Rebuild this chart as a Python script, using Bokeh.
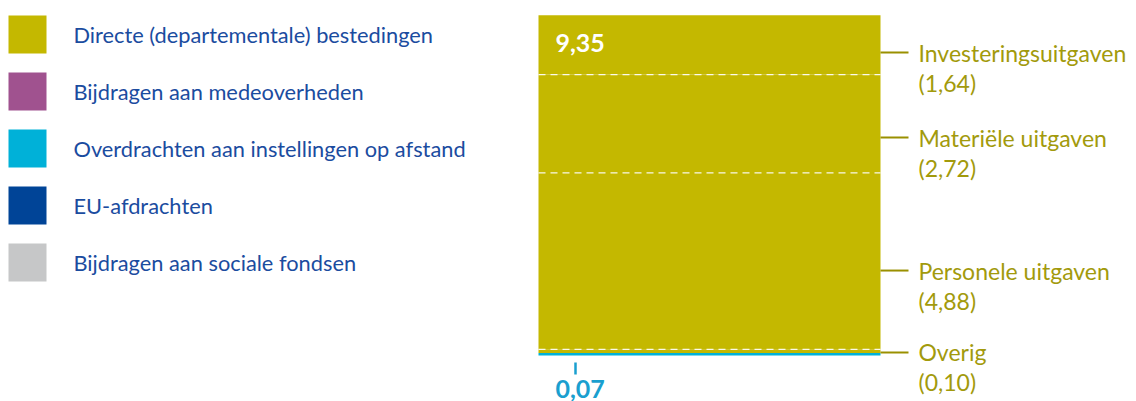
from bokeh.plotting import figure
from bokeh.models import Range1d
from bokeh.embed import file_html
from bokeh.resources import INLINE
from bokeh.core.properties import value

# ---- data ----
legend_labels = ["Directe (departementale) bestedingen", "Bijdragen aan medeoverheden",
                 "Overdrachten aan instellingen op afstand", "EU-afdrachten",
                 "Bijdragen aan sociale fondsen"]
legend_colors = ["#c4b800", "#a0528f", "#00b1d8", "#004497", "#c6c7c8"]

overdracht_value = 0.07
overdracht_label = "0,07"
direct_total_label = "9,35"
segment_names = ["Overig", "Personele uitgaven", "Materiële uitgaven", "Investeringsuitgaven"]
segment_values = [0.10, 4.88, 2.72, 1.64]
segment_value_labels = ["(0,10)", "(4,88)", "(2,72)", "(1,64)"]

# ---- layout ----
W, H = 1136, 401
PX_PER_UNIT = 36.15
ZERO_Y = 355.0
y_top = ZERO_Y / PX_PER_UNIT
y_bot = -(H - ZERO_Y) / PX_PER_UNIT

FONT = value("Lato")
YELLOW = "#c4b800"
OLIVE_TEXT = "#a29a0c"
OLIVE_LINE = "#9a9000"
BLUE_TEXT = "#1b4c9f"
CYAN = "#00b1d8"

p = figure(width=W, height=H, output_backend="svg", toolbar_location=None,
           x_range=Range1d(0, W), y_range=Range1d(y_bot, y_top),
           min_border=0, min_border_left=0, min_border_right=0,
           min_border_top=0, min_border_bottom=0)
p.extra_y_ranges = {"px": Range1d(H, 0)}
p.axis.visible = False
p.grid.visible = False
p.outline_line_color = None
p.background_fill_color = "white"
p.border_fill_color = "white"

# legend (manual)
sq = 38
leg_y = [34 + i * 57 for i in range(len(legend_labels))]
p.rect(x=[8 + sq / 2] * len(leg_y), y=leg_y, width=sq, height=sq,
       fill_color=legend_colors, line_color=None, y_range_name="px")
p.text(x=[73] * len(leg_y), y=leg_y, text=legend_labels, text_font=FONT,
       text_font_size="21.8px", text_color=BLUE_TEXT, text_baseline="middle",
       y_range_name="px")

# bar
bx0, bx1 = 538, 880
p.quad(left=[bx0], right=[bx1], bottom=[0], top=[overdracht_value],
       fill_color=CYAN, line_color=None)
bottoms = []
acc = overdracht_value
for v in segment_values:
    bottoms.append(acc)
    acc += v
tops = [b + v for b, v in zip(bottoms, segment_values)]
p.quad(left=[bx0] * 4, right=[bx1] * 4, bottom=bottoms, top=tops,
       fill_color=YELLOW, line_color=None)
# dashed separators
p.segment(x0=[bx0] * 3, x1=[bx1] * 3, y0=tops[:3], y1=tops[:3],
          line_color="white", line_width=1.3, line_dash="7 5", line_alpha=0.9)

# total label
p.text(x=[555], y=[tops[-1]], y_offset=28, text=[direct_total_label], text_font=FONT,
       text_font_size="25px", text_font_style="bold", text_color="white",
       text_baseline="middle")

# overdracht label + tick
p.rect(x=[575], y=[368], width=2.5, height=12,
       fill_color="#1a9fcf", line_color=None, y_range_name="px")
p.text(x=[555], y=[0], y_offset=33, text=[overdracht_label], text_font=FONT,
       text_font_size="25px", text_font_style="bold", text_color="#1a9fcf",
       text_baseline="middle")

# segment labels with leader lines
label_anchor = [0.083, 2.35, 6.03, 8.38]
p.segment(x0=[bx1] * 4, x1=[908] * 4, y0=label_anchor, y1=label_anchor,
          line_color=OLIVE_LINE, line_width=2)
p.text(x=[918] * 4, y=label_anchor, text=segment_names, text_font=FONT,
       text_font_size="23px", text_color=OLIVE_TEXT, text_baseline="middle")
p.text(x=[918] * 4, y=label_anchor, y_offset=30, text=segment_value_labels, text_font=FONT,
       text_font_size="23px", text_color=OLIVE_TEXT, text_baseline="middle")

open("out.html", "w").write(file_html(p, INLINE))
